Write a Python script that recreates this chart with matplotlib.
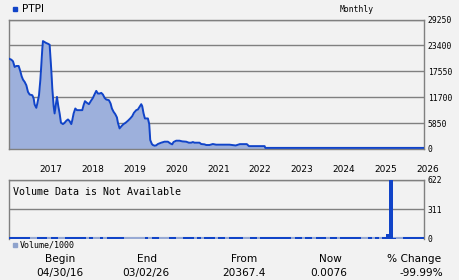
import matplotlib
matplotlib.use("Agg")
import matplotlib.pyplot as plt
from matplotlib.patches import Rectangle
from matplotlib.transforms import blended_transform_factory

# Preço mensal (meses desde 04/2016)
months = [
    0, 0.67, 1.15, 1.62, 2.10, 2.77, 3.25, 3.63, 4.01, 4.49,
    4.97, 5.44, 5.92, 6.69, 7.07, 7.35, 7.83, 8.12, 8.60, 8.98,
    9.26, 9.55, 9.74, 10.22, 10.70, 11.17, 11.65, 12.13, 12.42, 12.80,
    13.08, 13.37, 13.75, 14.14, 14.52, 14.90, 15.47, 15.95, 16.43, 16.91,
    17.38, 17.86, 18.15, 18.53, 19.01, 19.48, 20.25, 21.01, 21.39, 21.78,
    22.35, 22.92, 23.50, 24.07, 24.55, 25.02, 25.50, 25.98, 26.46, 26.93,
    27.41, 27.89, 28.65, 29.13, 29.51, 29.99, 30.47, 30.95, 31.23, 31.71,
    32.28, 32.86, 33.43, 34.10, 34.77, 35.34, 35.82, 36.49, 36.96, 37.44,
    37.92, 38.20, 38.59, 38.97, 39.35, 39.83, 40.21, 40.50, 40.97, 41.26,
    41.74, 42.22, 42.69, 43.65, 44.60, 45.56, 46.23, 46.80, 47.18, 47.95,
    48.90, 49.67, 50.81, 51.58, 52.24, 52.72, 53.20, 54.63, 55.11, 56.06,
    56.54, 57.50, 58.45, 59.41, 60.36, 61.32, 63.23, 65.0, 66.2, 68.2,
    68.8, 73.3, 73.5, 119,
]
price = [
    20400, 20175, 19800, 18525, 18750, 18750, 17550, 16425, 15675, 15150,
    14400, 12900, 12300, 12150, 11400, 10050, 9300, 10275, 12150, 15525,
    18900, 22650, 24375, 24150, 23925, 23775, 23550, 17775, 13650, 9675,
    8025, 9675, 11775, 9675, 8025, 5925, 5625, 5925, 6375, 6675,
    6300, 5625, 6525, 8025, 9150, 8775, 8775, 8775, 9900, 10800,
    10425, 10125, 10875, 11550, 12375, 13125, 12525, 12525, 12675, 12300,
    11550, 11175, 11025, 10275, 9150, 8400, 7875, 7125, 5925, 4650,
    5175, 5625, 5925, 6375, 6900, 7425, 8175, 8775, 8925, 9525,
    10125, 9675, 8025, 6900, 6900, 6900, 5625, 2025, 1125, 900,
    750, 825, 1125, 1425, 1650, 1650, 1275, 1050, 1575, 1875,
    1875, 1725, 1650, 1425, 1425, 1575, 1425, 1425, 1125, 1050,
    900, 900, 1125, 975, 975, 975, 975, 800, 1100, 1100,
    650, 650, 250, 250,
]

# Volume/1000 por mês (04/2016 a 02/2026)
volume = [
    22, 22, 22, 22, 22, 22, 0, 0, 22, 22, 22, 0,
    22, 22, 0, 0, 22, 22, 22, 22, 22, 22, 0, 22,
    0, 0, 22, 0, 22, 22, 22, 22, 22, 0, 0, 0,
    0, 0, 0, 22, 0, 22, 22, 0, 0, 0, 22, 22,
    0, 0, 22, 22, 22, 0, 22, 0, 22, 22, 22, 0,
    22, 22, 0, 22, 22, 22, 22, 0, 0, 22, 22, 0,
    22, 22, 22, 22, 22, 22, 22, 22, 22, 0, 22, 22,
    0, 22, 22, 0, 22, 22, 22, 0, 22, 22, 0, 22,
    22, 22, 22, 22, 22, 0, 0, 22, 0, 22, 0, 22,
    57, 622, 14, 0, 0, 22, 22, 22, 22, 22, 22,
]

price_ticks = [0, 5850, 11700, 17550, 23400, 29250]
volume_ticks = [0, 311, 622]
years = ["2017", "2018", "2019", "2020", "2021", "2022", "2023", "2024", "2025", "2026"]

BG = "#f2f2f2"
BLUE = "#1144c8"
FILL = "#9db0dc"
GRID = "#808080"
MONO = "DejaVu Sans Mono"

W, H = 460, 280
fig = plt.figure(figsize=(4.6, 2.8), dpi=100, facecolor=BG)


def box(left, top, right, bottom):
    return [left / W, 1 - bottom / H, (right - left) / W, (bottom - top) / H]


def style_axis(ax, ticks):
    ax.set_facecolor(BG)
    ax.set_yticks(ticks)
    ax.set_xticks([])
    ax.yaxis.tick_right()
    ax.tick_params(axis="y", length=0, pad=2.7, labelsize=5.8, colors="black")
    for lab in ax.get_yticklabels():
        lab.set_fontfamily(MONO)
    ax.yaxis.grid(True, color=GRID, lw=1)
    ax.set_axisbelow(True)
    for s in ax.spines.values():
        s.set_color(GRID)
        s.set_linewidth(1)


# Painel de preço
ax = fig.add_axes(box(9, 19.5, 424, 149))
style_axis(ax, price_ticks)
ax.fill_between(months, price, color=FILL, lw=0, zorder=2)
ax.plot(months, price, color=BLUE, lw=1.4, zorder=3)
ax.set_xlim(0, 119)
ax.set_ylim(0, 29250)

# Painel de volume
axv = fig.add_axes(box(9, 179.5, 424, 239))
style_axis(axv, volume_ticks)
axv.spines["bottom"].set_visible(False)
axv.axhline(0, color="#98aad4", lw=3, zorder=2)
axv.bar([i + 0.5 for i in range(len(volume))], volume, width=1.0,
        color=BLUE, lw=0, zorder=3)
axv.set_xlim(0, 119)
axv.set_ylim(0, 622)
axv.text(13 / W, 1 - 192 / H, "Volume Data is Not Available", transform=fig.transFigure,
         family=MONO, fontsize=7.2, va="center", ha="left")

# Anos entre os painéis
tr = blended_transform_factory(ax.transData, fig.transFigure)
for k, year in enumerate(years):
    ax.text(12 * (k + 1), 1 - 170 / H, year, transform=tr, ha="center", va="center",
            fontsize=6.5, clip_on=False)

# Título e legenda
fig.add_artist(Rectangle((13 / W, 1 - 11 / H), 4 / W, 4 / H, color=BLUE,
                         transform=fig.transFigure))
fig.text(22 / W, 1 - 9 / H, "PTPI", fontsize=7.6, va="center", ha="left")
fig.text(357 / W, 1 - 9 / H, "Monthly", family=MONO, fontsize=5.8, va="center", ha="center")

fig.add_artist(Rectangle((13 / W, 1 - 247 / H), 4 / W, 4 / H, color="#8fa3cc",
                         transform=fig.transFigure))
fig.text(20 / W, 1 - 245 / H, "Volume/1000", family=MONO, fontsize=6, va="center", ha="left")

# Resumo
labels = ["Begin", "End", "From", "Now", "% Change"]
values = ["04/30/16", "03/02/26", "20367.4", "0.0076", "-99.99%"]
label_x = [60, 147, 244, 330, 414]
value_x = [60, 146, 244, 329, 421]
for lx, vx, lab, val in zip(label_x, value_x, labels, values):
    fig.text(lx / W, 1 - 259 / H, lab, fontsize=7.6, ha="center", va="center")
    fig.text(vx / W, 1 - 273 / H, val, fontsize=7.6, ha="center", va="center")

fig.savefig("out.png", dpi=100, facecolor=BG)
